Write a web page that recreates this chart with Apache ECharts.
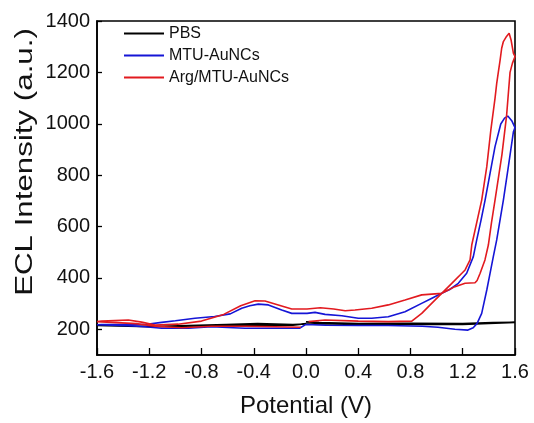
<!DOCTYPE html>
<html>
<head>
<meta charset="utf-8">
<script src="https://cdn.jsdelivr.net/npm/echarts@6/dist/echarts.min.js"></script>
<style>
  html, body { margin: 0; padding: 0; background: #fff; }
  #chart { width: 534px; height: 423px; }
</style>
</head>
<body>
<div id="chart"></div>
<script>
// x tick labels / y tick labels
const xTicks = [-1.6, -1.2, -0.8, -0.4, 0.0, 0.4, 0.8, 1.2, 1.6];
const yTicks = [200, 400, 600, 800, 1000, 1200, 1400];

const seriesNames = ['PBS', 'MTU-AuNCs', 'Arg/MTU-AuNCs'];

// PBS scan (potential V, intensity a.u.)
const pbsV = [0.0, 0.1, 0.4, 0.8, 1.2, 1.43, 1.6, 1.6, 1.2, 0.8, 0.4, 0.1, -0.1, -0.37, -0.61, -0.9, -1.12, -1.4, -1.6,
  -1.6, -1.2, -0.8, -0.4, -0.1, 0.0];
const pbsI = [229, 226, 222, 223, 222, 226, 227, 224, 219, 219, 219, 222, 219, 222, 219, 215, 212, 213, 215,
  214, 210, 213, 216, 216, 222];

// MTU-AuNCs scan
const mtuV = [0.0, 0.15, 0.4, 0.63, 0.89, 1.01, 1.14, 1.24, 1.28, 1.31, 1.345, 1.384, 1.409, 1.434, 1.46, 1.511, 1.55, 1.588, 1.6,
  1.575, 1.545, 1.52, 1.491, 1.447, 1.409, 1.371, 1.34, 1.307, 1.281, 1.23, 1.166, 1.1, 1.039, 0.96, 0.885, 0.758, 0.63, 0.503,
  0.4, 0.274, 0.146, 0.069, 0.008, -0.109, -0.186, -0.288, -0.365, -0.43, -0.492, -0.58, -0.7, -0.85, -1.0, -1.105, -1.232,
  -1.36, -1.564, -1.6,
  -1.6, -1.36, -1.232, -1.105, -0.9, -0.722, -0.6, -0.467, -0.237, -0.05, 0.0];
const mtuI = [219, 216, 215, 215, 212, 208, 200, 197, 206, 223, 262, 353, 418, 483, 548, 703, 836, 969, 985,
  1012, 1030, 1022, 999, 911, 807, 703, 625, 548, 483, 418, 379, 355, 340, 320, 301, 268, 249, 243,
  243, 253, 258, 266, 262, 262, 275, 295, 298, 292, 282, 260, 250, 243, 233, 227, 219,
  219, 219, 218,
  216, 214, 210, 204, 204, 210, 207, 204, 204, 204, 219];

// Arg/MTU-AuNCs scan
const argV = [0.02, 0.146, 0.4, 0.63, 0.81, 0.886, 0.962, 1.039, 1.116, 1.193, 1.218, 1.256, 1.269, 1.345, 1.384, 1.415, 1.447,
  1.46, 1.473, 1.486, 1.498, 1.511, 1.535, 1.555, 1.57, 1.588, 1.6,
  1.58, 1.562, 1.536, 1.5, 1.447, 1.42, 1.396, 1.37, 1.333, 1.31, 1.294, 1.218, 1.141, 1.039, 0.886, 0.758, 0.63, 0.503,
  0.375, 0.3, 0.212, 0.11, 0.008, -0.109, -0.212, -0.314, -0.39, -0.5, -0.63, -0.8, -0.98, -1.156, -1.258, -1.36, -1.564, -1.6,
  -1.45, -1.3, -1.156, -0.951, -0.722, -0.467, -0.237, -0.04];
const argI = [230, 236, 232, 230, 232, 262, 301, 340, 379, 418, 431, 470, 528, 703, 833, 975, 1099,
  1157, 1203, 1248, 1294, 1320, 1340, 1352, 1326, 1274, 1262,
  1235, 1200, 1034, 880, 703, 615, 528, 470, 418, 390, 381, 379, 366, 340, 334, 314, 295, 282,
  275, 272, 279, 284, 279, 279, 295, 310, 311, 292, 258, 232, 220, 217, 228, 236, 232, 230,
  226, 222, 212, 206, 212, 212, 210, 208];

const colors = ['#000000', '#1515d6', '#e21a1f'];

function zip(xs, ys) {
  return xs.map((x, i) => [x, ys[i]]);
}

const chart = echarts.init(document.getElementById('chart'), null, { renderer: 'canvas' });

const font = '"Liberation Sans", Arial, sans-serif';
// plain line as legend icon
const lineIcon = 'path://M0,0 L40,0 L40,2 L0,2 Z';

const option = {
  animation: false,
  backgroundColor: '#fff',
  color: colors,
  grid: {
    left: 97, right: 19, top: 21, bottom: 68,
    show: true, borderColor: '#000', borderWidth: 1.6, backgroundColor: 'transparent'
  },
  legend: {
    orient: 'vertical',
    left: 119,
    top: 20,
    itemWidth: 40,
    itemHeight: 14,
    itemGap: 5,
    icon: lineIcon,
    textStyle: { fontFamily: font, fontSize: 16, color: '#111', lineHeight: 17 },
    data: seriesNames
  },
  xAxis: {
    type: 'value',
    min: -1.6,
    max: 1.6,
    interval: 0.4,
    name: 'Potential (V)',
    nameLocation: 'middle',
    nameGap: 39,
    nameTextStyle: { fontFamily: font, fontSize: 24, color: '#111' },
    axisLine: { onZero: false, lineStyle: { color: '#000', width: 1.6 } },
    axisTick: { inside: true, length: 7, lineStyle: { color: '#000', width: 1.3 }, customValues: xTicks },
    axisLabel: {
      customValues: xTicks,
      margin: 7,
      fontFamily: font, fontSize: 20, color: '#111',
      formatter: v => (Math.abs(v) < 1e-9 ? '0.0' : v.toFixed(1))
    },
    splitLine: { show: false }
  },
  yAxis: {
    type: 'value',
    min: 100,
    max: 1400,
    axisLine: { show: true, onZero: false, lineStyle: { color: '#000', width: 1.6 } },
    axisTick: { show: true, inside: true, length: 5, lineStyle: { color: '#000', width: 1.3 }, customValues: yTicks },
    axisLabel: {
      customValues: yTicks, margin: 7, fontFamily: font, fontSize: 20, color: '#111',
      formatter: v => String(v)
    },
    splitLine: { show: false }
  },
  graphic: [{
    type: 'text',
    x: 26,
    y: 162,
    rotation: Math.PI / 2,
    scaleX: 1.36,
    style: {
      text: 'ECL Intensity (a.u.)',
      font: '23px ' + font,
      fill: '#111',
      align: 'center',
      verticalAlign: 'middle'
    }
  }],
  series: [
    { name: seriesNames[0], type: 'line', data: zip(pbsV, pbsI) },
    { name: seriesNames[1], type: 'line', data: zip(mtuV, mtuI) },
    { name: seriesNames[2], type: 'line', data: zip(argV, argI) }
  ].map(s => Object.assign(s, {
    symbol: 'none',
    smooth: false,
    lineStyle: { width: 1.6 },
    clip: true
  }))
};

chart.setOption(option);
</script>
</body>
</html>
